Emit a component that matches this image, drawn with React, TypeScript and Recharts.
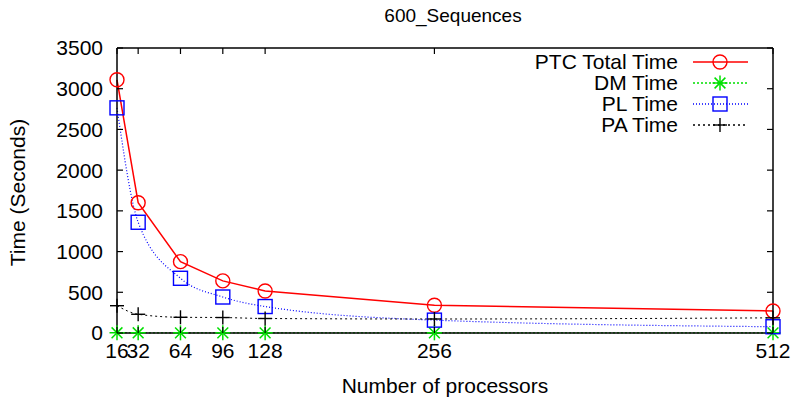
import { LineChart, Line, XAxis, YAxis } from "recharts"

// values
const processors = [16, 32, 64, 96, 128, 256, 512]
const ptcTotal = [3110, 1600, 876, 640, 516, 340, 270]
const dmTime = [3, 3, 2, 2, 2, 2, 2]
const plTime = [2765, 1360, 672, 442, 325, 158, 77]
const paTime = [335, 230, 193, 190, 178, 172, 186]
const yTicks = [0, 500, 1000, 1500, 2000, 2500, 3000, 3500]

const data = processors.map((p, i) => ({
  p,
  ptc: ptcTotal[i],
  dm: dmTime[i],
  pl: plTime[i],
  pa: paTime[i],
}))

const FONT = "'Liberation Sans', Arial, sans-serif"
const RED = "#ff0000"
const GREEN = "#00e000"
const BLUE = "#0000ff"

const Circle = ({ cx, cy }: any) => (
  <circle cx={cx} cy={cy} r={7} fill="none" stroke={RED} strokeWidth={1.4} />
)
const Star = ({ cx, cy }: any) => {
  const r = 7.5
  const d = r * 0.72
  return (
    <g stroke={GREEN} strokeWidth={1.5}>
      <line x1={cx - r} y1={cy} x2={cx + r} y2={cy} />
      <line x1={cx} y1={cy - r} x2={cx} y2={cy + r} />
      <line x1={cx - d} y1={cy - d} x2={cx + d} y2={cy + d} />
      <line x1={cx - d} y1={cy + d} x2={cx + d} y2={cy - d} />
    </g>
  )
}
const Square = ({ cx, cy }: any) => (
  <rect x={cx - 7} y={cy - 7} width={14} height={14} fill="none" stroke={BLUE} strokeWidth={1.4} />
)
const Plus = ({ cx, cy }: any) => (
  <g stroke="#000" strokeWidth={1.4}>
    <line x1={cx - 7} y1={cy} x2={cx + 7} y2={cy} />
    <line x1={cx} y1={cy - 7} x2={cx} y2={cy + 7} />
  </g>
)

const dotFn = (Shape: any) => (props: any) =>
  <Shape key={`d-${props.index}`} cx={props.cx} cy={props.cy} />

// ticks point into the plot like gnuplot
const BottomTick = ({ x, y, payload }: any) => (
  <g>
    <line x1={x} y1={y - 10} x2={x} y2={y - 16} stroke="#000" strokeWidth={1.2} />
    <text x={x} y={y} dy="0.71em" textAnchor="middle" fontSize={21} fontFamily={FONT} fill="#000">
      {payload.value}
    </text>
  </g>
)
const LeftTick = ({ x, y, payload }: any) => (
  <g>
    <line x1={x + 14} y1={y} x2={x + 20} y2={y} stroke="#000" strokeWidth={1.2} />
    <text x={x} y={y} dy="0.355em" textAnchor="end" fontSize={21} fontFamily={FONT} fill="#000">
      {payload.value}
    </text>
  </g>
)
const TopTick = ({ x, y }: any) => <line x1={x} y1={y} x2={x} y2={y + 6} stroke="#000" strokeWidth={1.2} />
const RightTick = ({ x, y }: any) => <line x1={x} y1={y} x2={x - 6} y2={y} stroke="#000" strokeWidth={1.2} />

const legendItems = [
  { name: "PTC Total Time", color: RED, dash: undefined, Shape: Circle },
  { name: "DM Time", color: GREEN, dash: "2 2", Shape: Star },
  { name: "PL Time", color: BLUE, dash: "1 2", Shape: Square },
  { name: "PA Time", color: "#000", dash: "2 3", Shape: Plus },
]

export default function App() {
  return (
    <div style={{ position: "absolute", left: 0, top: 0, width: 796, height: 399, background: "#fff" }}>
      <LineChart width={796} height={399} data={data} margin={{ top: 47, right: 22, bottom: 0, left: 0 }}>
        <XAxis
          dataKey="p"
          type="number"
          domain={[16, 512]}
          ticks={processors}
          height={66}
          tickSize={0}
          tickMargin={10}
          tick={<BottomTick />}
          stroke="#000"
          strokeWidth={1.5}
          label={{
            content: ({ viewBox }: any) => (
              <text x={viewBox.x + viewBox.width / 2} y={viewBox.y + 60} textAnchor="middle" fontSize={21} fontFamily={FONT} fill="#000">
                Number of processors
              </text>
            ),
          }}
        />
        <XAxis
          xAxisId="top"
          orientation="top"
          dataKey="p"
          type="number"
          domain={[16, 512]}
          ticks={processors}
          height={1}
          tickSize={0}
          tickMargin={0}
          tick={<TopTick />}
          stroke="#000"
          strokeWidth={1.5}
          label={{
            content: ({ viewBox }: any) => (
              <text x={viewBox.x + viewBox.width / 2 + 8} y={viewBox.y - 25} textAnchor="middle" fontSize={19} fontFamily={FONT} fill="#000">
                600_Sequences
              </text>
            ),
          }}
        />
        <YAxis
          type="number"
          domain={[0, 3500]}
          ticks={yTicks}
          width={117}
          tickSize={0}
          tickMargin={14}
          tick={<LeftTick />}
          stroke="#000"
          strokeWidth={1.5}
          label={{
            content: ({ viewBox }: any) => {
              const cx = 18
              const cy = viewBox.y + viewBox.height / 2 + 2
              return (
                <text x={cx} y={cy} transform={`rotate(-90 ${cx} ${cy})`} dy="0.355em" textAnchor="middle" fontSize={21} fontFamily={FONT} fill="#000">
                  Time (Seconds)
                </text>
              )
            },
          }}
        />
        <YAxis
          yAxisId="right"
          orientation="right"
          type="number"
          domain={[0, 3500]}
          ticks={yTicks}
          width={1}
          tickSize={0}
          tickMargin={0}
          tick={<RightTick />}
          stroke="#000"
          strokeWidth={1.5}
        />
        <Line dataKey="ptc" type="linear" stroke={RED} strokeWidth={1.5} dot={dotFn(Circle)} isAnimationActive={false} />
        <Line xAxisId="top" yAxisId="right" dataKey="dm" type="linear" stroke={GREEN} strokeWidth={1.2} strokeDasharray="2 2" dot={dotFn(Star)} isAnimationActive={false} />
        <Line dataKey="pl" type="monotone" stroke={BLUE} strokeWidth={1.2} strokeDasharray="1 2" dot={dotFn(Square)} isAnimationActive={false} />
        <Line dataKey="pa" type="monotone" stroke="#000" strokeWidth={1} strokeDasharray="2 3" dot={dotFn(Plus)} isAnimationActive={false} />
      </LineChart>
      <svg width={796} height={399} style={{ position: "absolute", left: 0, top: 0, pointerEvents: "none" }}>
        {legendItems.map((it, i) => {
          const y = 62 + i * 21
          return (
            <g key={it.name}>
              <text x={678} y={y} dy="0.355em" textAnchor="end" fontSize={21} fontFamily={FONT} fill="#000">
                {it.name}
              </text>
              <line x1={693} y1={y} x2={748} y2={y} stroke={it.color} strokeWidth={1.3} strokeDasharray={it.dash} />
              <it.Shape cx={720} cy={y} />
            </g>
          )
        })}
      </svg>
    </div>
  )
}
